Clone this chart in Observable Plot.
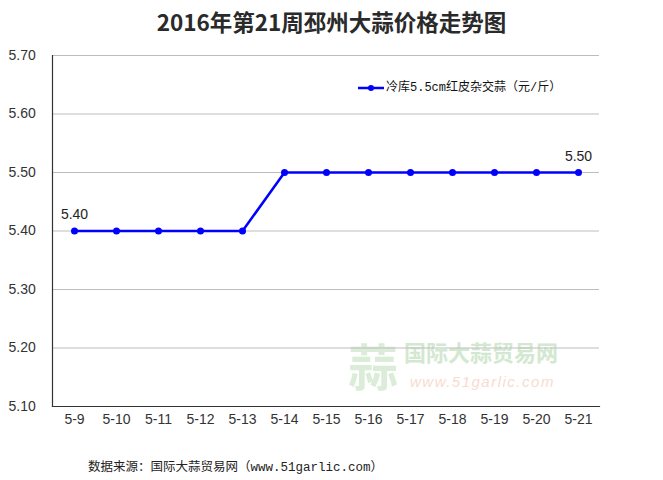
<!DOCTYPE html>
<html>
<head>
<meta charset="utf-8">
<script src="https://cdn.jsdelivr.net/npm/d3@7"></script>
<script src="https://cdn.jsdelivr.net/npm/@observablehq/plot@0.6"></script>
<style>
  html, body { margin: 0; padding: 0; background: #fff; }
  #wrap { position: relative; width: 663px; height: 480px; overflow: hidden; }
  #title { position: absolute; left: 0; top: 5px; width: 663px; text-align: center;
    font-family: "Noto Sans CJK SC", serif; font-weight: bold; font-size: 22.5px; color: #2a2a2a; line-height: 32px; }
  #chart { position: absolute; left: 0; top: 0; }
  #legend { position: absolute; left: 358px; top: 80px; font-family: "Liberation Mono", "Noto Sans CJK SC", monospace;
    font-size: 12px; color: #111; display: flex; align-items: center; line-height: 16px; }
  #legend svg { margin-right: 2px; }
  #caption { position: absolute; left: 88px; top: 456px; font-family: "Liberation Mono", "Noto Sans CJK SC", monospace;
    font-size: 12.5px; color: #222; }
  #wm1 { position: absolute; left: 404px; top: 339px; font-family: "Noto Sans CJK SC", sans-serif; font-weight: bold;
    font-size: 22px; line-height: 24px; color: #d3e8d0; }
  #wm2 { position: absolute; left: 410px; top: 373px; font-family: "Liberation Sans", sans-serif; font-style: italic;
    font-size: 15px; line-height: 17px; color: #f8dccd; letter-spacing: 1.5px; }
  #wm0 { position: absolute; left: 348px; top: 336px; font-family: "Noto Sans CJK SC", sans-serif; font-weight: bold;
    font-size: 50px; color: #dbecd8; line-height: 56px; }
</style>
</head>
<body>
<div id="wrap">
  <div id="wm0">蒜</div>
  <div id="wm1">国际大蒜贸易网</div>
  <div id="wm2">www.51garlic.com</div>
  <div id="chart"></div>
  <div id="title"></div>
  <div id="legend"></div>
  <div id="caption"></div>
</div>
<script>
const titleText = "2016年第21周邳州大蒜价格走势图";
const seriesName = "冷库5.5cm红皮杂交蒜（元/斤）";
const captionText = "数据来源：国际大蒜贸易网（www.51garlic.com）";
const dates = ["5-9","5-10","5-11","5-12","5-13","5-14","5-15","5-16","5-17","5-18","5-19","5-20","5-21"];
const prices = [5.40,5.40,5.40,5.40,5.40,5.50,5.50,5.50,5.50,5.50,5.50,5.50,5.50];
const yTicks = [5.10,5.20,5.30,5.40,5.50,5.60,5.70];
const labelledIdx = [0, 12];

const data = dates.map((d, i) => ({date: d, price: prices[i]}));
const labelled = labelledIdx.map(i => data[i]);
const blue = "#0000ff";

document.getElementById("title").textContent = titleText;
document.getElementById("caption").textContent = captionText;
document.getElementById("legend").innerHTML =
  `<svg width="26" height="10"><line x1="0" x2="26" y1="5" y2="5" stroke="${blue}" stroke-width="2.5"/><circle cx="13" cy="5" r="3" fill="${blue}"/></svg><span></span>`;
document.querySelector("#legend span").textContent = seriesName;

const chart = Plot.plot({
  width: 663,
  height: 480,
  marginTop: 55,
  marginBottom: 74,
  marginLeft: 52,
  marginRight: 64,
  style: {background: "transparent", fontFamily: "Liberation Sans, Arial, sans-serif", fontSize: "14px", color: "#333"},
  x: {type: "point", domain: dates, padding: 0.5},
  y: {domain: [5.10, 5.70]},
  marks: [
    Plot.gridY(yTicks, {stroke: "#bdbdbd", strokeOpacity: 1, strokeWidth: 1}),
    Plot.axisY(yTicks, {tickSize: 0, tickPadding: 0, textAnchor: "start", dx: -44, tickFormat: d3.format(".2f"), label: null, fontSize: 14, fill: "#333"}),
    Plot.axisX({tickSize: 0, tickPadding: 8, label: null, fontSize: 14, fill: "#333"}),
    Plot.frame({anchor: "left", stroke: "#333", strokeWidth: 1.2}),
    Plot.frame({anchor: "bottom", stroke: "#333", strokeWidth: 1.2}),
    Plot.line(data, {x: "date", y: "price", stroke: blue, strokeWidth: 2.5}),
    Plot.dot(data, {x: "date", y: "price", r: 3.5, fill: blue, stroke: "none"}),
    Plot.text(labelled, {x: "date", y: "price", text: d => d3.format(".2f")(d.price), dy: -16, fontSize: 14, fill: "#222"})
  ]
});
document.getElementById("chart").appendChild(chart);
</script>
</body>
</html>
